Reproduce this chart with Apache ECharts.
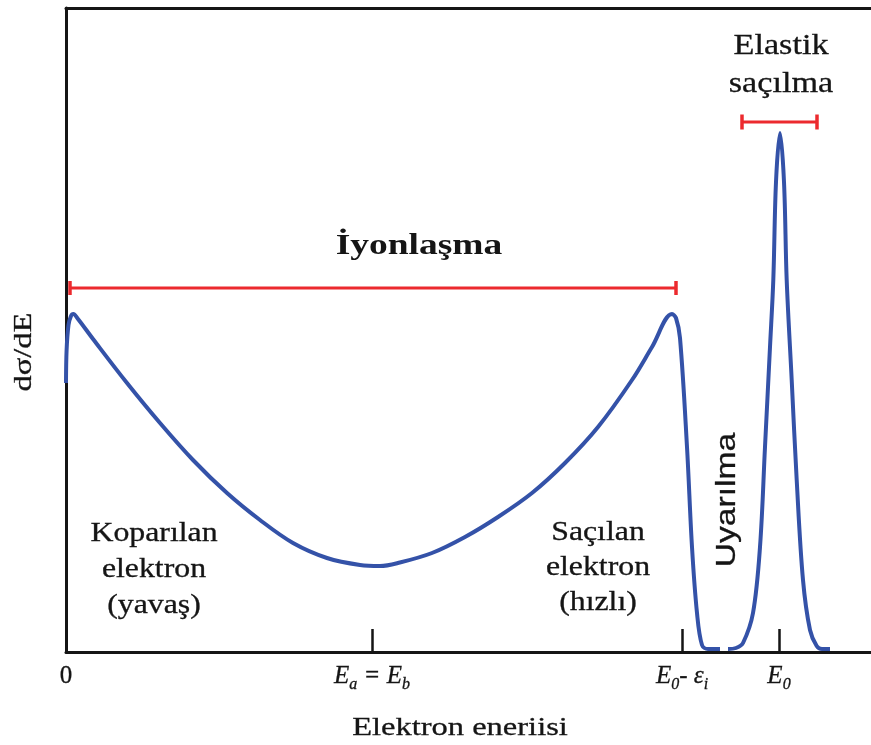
<!DOCTYPE html>
<html>
<head>
<meta charset="utf-8">
<script src="https://cdn.jsdelivr.net/npm/echarts@6/dist/echarts.min.js"></script>
<style>html,body{margin:0;padding:0;background:#fff}#chart{width:871px;height:745px}</style>
</head>
<body>
<div id="chart"></div>
<script>
// Ionization continuum (energy, dσ/dE)
const energyIon = [0, 0.6, 2.5, 5, 7.3, 12, 27, 61, 94, 127, 161, 194, 227, 261, 294, 314, 332, 366, 399, 432, 466, 499, 532, 566, 586, 606, 610, 614, 621, 626, 631, 636, 642, 654];
const sigmaIon  = [269, 302, 327, 336, 338, 333, 313, 269, 229, 192, 159, 132, 109, 94, 87, 86, 89, 99, 115, 135, 159, 189, 225, 272, 305, 338, 334, 314, 205, 105, 39, 7, 3, 3];
// Elastic peak
const energyEl = [662, 670, 677, 687, 694, 699, 704, 707.3, 710, 714, 718, 720.7, 725.7, 730.7, 737, 744, 750.7, 756, 764];
const sigmaEl  = [3, 4, 9, 39, 105, 205, 305, 372, 470, 519, 470, 372, 272, 172, 72, 22, 6, 3, 3];
// Range bars
const ionBarX = [4, 610];
const ionBarY = 364;
const elBarX = [676, 751];
const elBarY = 530;
// Axis ticks
const tickValues = [0, 306, 616, 713];
const tickLabels = ['{n|0}', '{e|E}{s|a}{e| = E}{s|b}', '{e|E}{s|0}{e|- ε}{s|i}', '{e|E}{s|0}'];
const xMax = 805, yMax = 644;

const BLUE = '#3452a8', RED = '#ec2a2e', INK = '#151515';
const SERIF = '"Liberation Serif", "Times New Roman", serif';

const chart = echarts.init(document.getElementById('chart'));
const pair = (xs, ys) => xs.map((x, i) => [x, ys[i]]);
const txt = (o) => Object.assign({ fill: INK, stroke: INK, lineWidth: 0.3, align: 'center', verticalAlign: 'middle', textAlign: 'center', textVerticalAlign: 'middle' }, o);

chart.setOption({
  backgroundColor: '#fff',
  animation: false,
  grid: { left: 66, right: 0, top: 8, bottom: 93, outerBoundsMode: 'none', containLabel: false },
  xAxis: [{
    type: 'value', min: 0, max: xMax, position: 'bottom',
    axisLine: { show: true, onZero: false, lineStyle: { color: INK, width: 3 } },
    axisTick: { show: true, customValues: tickValues, inside: true, length: 23, lineStyle: { color: INK, width: 2.5 } },
    axisLabel: {
      show: true, customValues: tickValues, margin: 7, hideOverlap: false,
      formatter: v => tickLabels[tickValues.indexOf(v)] || '',
      rich: {
        n: { fontFamily: SERIF, fontSize: 25, color: INK, lineHeight: 34, textBorderColor: INK, textBorderWidth: 0.3 },
        e: { fontFamily: SERIF, fontStyle: 'italic', fontSize: 25, color: INK, lineHeight: 34, textBorderColor: INK, textBorderWidth: 0.3 },
        s: { fontFamily: SERIF, fontStyle: 'italic', fontSize: 16, color: INK, lineHeight: 10, verticalAlign: 'bottom', textBorderColor: INK, textBorderWidth: 0.3 }
      }
    },
    splitLine: { show: false }
  }, {
    type: 'value', min: 0, max: xMax, position: 'top',
    axisLine: { show: true, onZero: false, lineStyle: { color: INK, width: 3 } },
    axisTick: { show: false }, axisLabel: { show: false }, splitLine: { show: false }
  }],
  yAxis: {
    type: 'value', min: 0, max: yMax,
    axisLine: { show: true, onZero: false, lineStyle: { color: INK, width: 3 } },
    axisTick: { show: false }, axisLabel: { show: false }, splitLine: { show: false }
  },
  series: [
    { type: 'line', data: pair(energyIon, sigmaIon), smooth: 0.35, showSymbol: false, lineStyle: { color: BLUE, width: 4 }, z: 5 },
    { type: 'line', data: pair(energyEl, sigmaEl), smooth: 0.35, showSymbol: false, lineStyle: { color: BLUE, width: 4 }, z: 5 },
    { type: 'line', data: ionBarX.map(x => [x, ionBarY]), symbol: 'rect', symbolSize: [3.5, 14], showSymbol: true,
      itemStyle: { color: RED }, lineStyle: { color: RED, width: 3 }, z: 4 },
    { type: 'line', data: elBarX.map(x => [x, elBarY]), symbol: 'rect', symbolSize: [3.5, 15], showSymbol: true,
      itemStyle: { color: RED }, lineStyle: { color: RED, width: 3 }, z: 4 }
  ],
  graphic: [
    { type: 'text', x: 419, y: 246, scaleX: 1.25, style: txt({ text: 'İyonlaşma', fontFamily: SERIF, fontSize: 30, fontWeight: 'bold', lineWidth: 0 }) },
    { type: 'text', x: 781, y: 65, scaleX: 1.18, style: txt({ text: 'Elastik\nsaçılma', fontFamily: SERIF, fontSize: 29, lineHeight: 38 }) },
    { type: 'text', x: 154, y: 570, scaleX: 1.2, style: txt({ text: 'Koparılan\nelektron\n(yavaş)', fontFamily: SERIF, fontSize: 26.5, lineHeight: 36 }) },
    { type: 'text', x: 598, y: 568, scaleX: 1.2, style: txt({ text: 'Saçılan\nelektron\n(hızlı)', fontFamily: SERIF, fontSize: 26.5, lineHeight: 35 }) },
    { type: 'text', x: 727, y: 500, rotation: Math.PI / 2, scaleX: 1.2, style: txt({ text: 'Uyarılma', fontFamily: '"Liberation Sans", Arial, sans-serif', fontSize: 28, lineWidth: 0.3 }) },
    { type: 'text', x: 24, y: 352, rotation: Math.PI / 2, scaleX: 1.25, style: txt({ text: 'dσ/dE', fontFamily: SERIF, fontSize: 26 }) },
    { type: 'text', x: 460, y: 728, scaleX: 1.25, style: txt({ text: 'Elektron eneriisi', fontFamily: SERIF, fontSize: 26 }) }
  ]
});
</script>
</body>
</html>
